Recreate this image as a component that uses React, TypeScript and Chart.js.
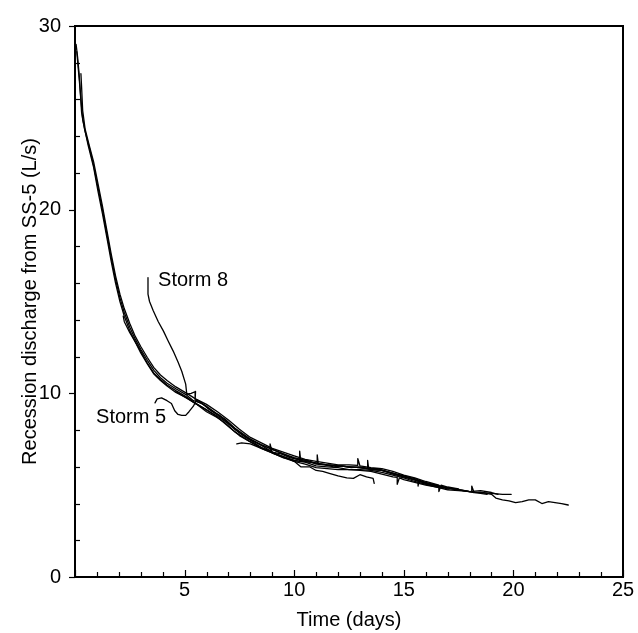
import React, { useEffect, useRef } from "react";
import { Chart, registerables } from "chart.js";

Chart.register(...registerables);

const FONT = "'Liberation Sans', Arial, Helvetica, sans-serif";

// Axis ranges and tick labels
const xMin = 0, xMax = 25, xStep = 5;
const yMin = 0, yMax = 30, yStep = 10;
const xTitle = "Time (days)";
const yTitle = "Recession discharge from SS-5 (L/s)";

// Storm recession curves (time in days, discharge in L/s)
const s1T = [0.05,0.12,0.2,0.3,0.45,0.65,0.85,1.05,1.25,1.45,1.65,1.85,2.05,2.25,2.5,2.75,3.0,3.3,3.6,3.9,4.2,4.6,5.1,5.4,5.8,6.2,6.6,7.0,7.4,7.8,8.2,8.6,9.0,9.4,9.8,10.2,10.6,11.0,11.4,11.8,12.2,12.6,13.0,13.4,13.8,14.2,14.6,15.0,15.4,15.8,16.2,16.6,17.0,17.4,17.8,18.2,18.6,19.0,19.2,19.5,19.8,20.1,20.4,20.7,21.0,21.3,21.6,21.9,22.2,22.5];
const s1Q = [29.0,28.3,27.2,25.3,24.3,23.4,22.4,21.2,20.0,18.7,17.4,16.2,15.2,14.4,13.6,12.95,12.4,11.8,11.25,10.85,10.55,10.25,9.9,9.6,9.45,9.05,8.8,8.35,7.95,7.6,7.35,7.1,6.8,6.7,6.5,6.4,6.35,6.15,6.1,6.0,6.05,5.95,6.0,5.9,5.9,5.75,5.6,5.5,5.3,5.2,5.05,4.95,4.85,4.75,4.7,4.6,4.6,4.5,4.3,4.2,4.15,4.05,4.1,4.2,4.2,4.0,4.1,4.05,4.0,3.92];

const s2T = [0.27,0.3,0.35,0.46,0.65,0.85,1.05,1.25,1.45,1.65,1.85,2.05,2.25,2.5,2.75,3.0,3.3,3.6,3.9,4.2,4.6,5.1,5.5,6.0,6.5,7.0,7.5,8.0,8.5,9.0,9.5,10.0,10.5,11.0,11.5,12.0,12.5,12.9,12.9,13.0,13.5,14.0,14.5,15.0,15.5,16.0,16.6,16.6,16.7,17.0,17.5];
const s2Q = [27.4,26.7,25.4,24.4,23.5,22.6,21.4,20.2,18.9,17.6,16.4,15.4,14.6,13.8,13.1,12.55,11.95,11.4,11.0,10.7,10.35,10.0,9.7,9.4,9.0,8.55,8.05,7.6,7.3,7.0,6.8,6.6,6.4,6.3,6.2,6.1,6.1,6.08,6.45,6.05,5.95,5.9,5.75,5.55,5.4,5.2,5.0,4.65,5.0,4.9,4.8];

const s3T = [2.2,2.25,2.5,2.75,3.0,3.3,3.6,3.9,4.2,4.6,5.1,5.55,6.0,6.46,6.84,7.3,7.95,8.5,9.0,9.5,10.0,10.3,10.7,11.0,11.3,11.6,12.0,12.4,12.7,13.0,13.3,13.6,13.65];
const s3Q = [14.2,13.9,13.3,12.8,12.2,11.6,11.05,10.7,10.4,10.05,9.75,9.4,9.0,8.7,8.4,7.9,7.4,7.05,6.8,6.55,6.3,6.0,6.0,5.8,5.75,5.64,5.5,5.4,5.37,5.57,5.45,5.37,5.1];

// Storm 8
const s8T = [3.33,3.33,3.4,3.57,3.8,4.03,4.25,4.48,4.7,4.87,5.05,5.1,5.3,5.5,5.48,5.6,6.0,6.46,6.84,7.3,7.95,8.5,9.0,9.5,10.0,10.5,11.0,11.5,12.0,12.5,13.0,13.5,14.0,14.5,15.0,15.5,16.0,16.5,17.0];
const s8Q = [16.3,15.4,15.0,14.5,13.9,13.4,12.85,12.3,11.7,11.2,10.5,9.95,10.0,10.1,9.65,9.55,9.3,8.9,8.6,8.1,7.55,7.2,6.95,6.7,6.5,6.35,6.2,6.1,6.05,6.0,5.95,5.9,5.8,5.65,5.45,5.3,5.1,4.95,4.8];

// Storm 5
const s5T = [3.65,3.75,3.95,4.2,4.4,4.55,4.7,4.87,5.05,5.2,5.4,5.55,5.7,6.0,6.46,6.84,7.3,7.95,8.5,9.0,9.5,10.0,10.5,11.0,11.5,12.0,12.5,13.0,13.5,14.0,14.5,15.0,15.5,16.0,16.5,17.0,17.5,18.0,18.1,18.1,18.2,18.5,19.0,19.5,19.9];
const s5Q = [9.48,9.7,9.75,9.6,9.45,9.05,8.85,8.8,8.8,9.0,9.3,9.65,9.55,9.25,8.85,8.55,8.05,7.5,7.2,6.95,6.7,6.45,6.3,6.2,6.1,6.05,6.0,5.95,5.85,5.8,5.6,5.45,5.3,5.1,4.95,4.85,4.75,4.65,4.65,4.95,4.62,4.6,4.55,4.5,4.5];

const s6T = [7.38,7.6,8.0,8.5,9.0,9.5,10.0,10.5,11.0,11.5,12.0,12.5,13.0,13.5,14.0,14.5,15.0,15.5,16.0,16.5,16.8];
const s6Q = [7.25,7.3,7.25,7.0,6.75,6.5,6.35,6.25,6.05,6.0,5.95,5.85,5.85,5.8,5.7,5.55,5.4,5.2,5.05,4.9,4.85];

const s7T = [0.08,0.2,0.35,0.6,0.85,1.05,1.25,1.45,1.65,1.85,2.05,2.25,2.5,2.75,3.0,3.3,3.6,3.9,4.2,4.6,5.1,5.5,6.0,6.5,7.0,7.5,8.0,8.5,9.0,9.5,10.0,10.25,10.25,10.3,10.7,11.0,11.05,11.05,11.1,11.5,12.0,12.5,13.0,13.35,13.35,13.4,14.0,14.5,15.0,15.5,15.65,15.65,15.7,16.0,16.5,17.0,17.5,18.0,18.5,19.0,19.3];
const s7Q = [28.6,27.0,24.9,23.5,22.3,21.0,19.8,18.5,17.2,16.0,15.0,14.2,13.4,12.8,12.3,11.65,11.1,10.75,10.45,10.15,9.8,9.45,9.1,8.7,8.2,7.7,7.35,7.0,6.75,6.55,6.35,6.3,6.85,6.3,6.25,6.2,6.2,6.65,6.15,6.1,6.05,6.0,5.95,5.9,6.35,5.88,5.8,5.65,5.5,5.35,5.3,4.95,5.28,5.15,5.0,4.85,4.75,4.65,4.7,4.6,4.5];

const s9T = [4.6,5.0,5.5,6.0,6.5,7.0,7.5,8.0,8.5,8.9,8.9,9.0,9.5,10.0,10.5,11.0,11.5,12.0,12.5,13.0,13.5,14.0,14.5,14.7,14.7,14.8,15.0,15.5,16.0,16.5,17.0,17.5,18.0,18.5,18.8];
const s9Q = [10.1,9.8,9.45,9.1,8.75,8.35,7.85,7.45,7.05,6.85,7.25,6.75,6.5,6.3,6.15,5.95,5.9,5.85,5.85,5.8,5.75,5.6,5.45,5.42,5.05,5.4,5.3,5.15,5.0,4.9,4.75,4.7,4.65,4.55,4.5];

const storms: [number[], number[]][] = [
  [s1T, s1Q], [s2T, s2Q], [s3T, s3Q], [s8T, s8Q], [s5T, s5Q],
  [s6T, s6Q], [s7T, s7Q], [s9T, s9Q],
];

// Text labels placed in data coordinates
const labelTexts = ["Storm 8", "Storm 5"];
const labelX = [3.79, 0.96];
const labelY = [15.86, 8.36];

const decorPlugin = {
  id: "decor",
  afterDatasetsDraw(chart: any) {
    const { ctx, chartArea, scales } = chart;
    const xs = scales.x, ys = scales.y;
    ctx.save();
    ctx.strokeStyle = "#000";
    ctx.lineWidth = 2;
    ctx.strokeRect(chartArea.left, chartArea.top, chartArea.right - chartArea.left, chartArea.bottom - chartArea.top);
    ctx.lineWidth = 1.2;
    for (let t = xMin; t <= xMax; t += 1) {
      const px = Math.round(xs.getPixelForValue(t)) + 0.5;
      const len = t % xStep === 0 ? 7 : 5;
      ctx.beginPath();
      ctx.moveTo(px, chartArea.bottom);
      ctx.lineTo(px, chartArea.bottom - len);
      ctx.stroke();
    }
    for (let v = yMin; v <= yMax; v += 2) {
      const py = Math.round(ys.getPixelForValue(v)) + 0.5;
      ctx.beginPath();
      ctx.moveTo(chartArea.left, py);
      ctx.lineTo(v % yStep === 0 ? chartArea.left - 6 : chartArea.left + 5, py);
      ctx.stroke();
    }
    ctx.fillStyle = "#000";
    ctx.font = `20px ${FONT}`;
    ctx.textAlign = "left";
    ctx.textBaseline = "alphabetic";
    labelTexts.forEach((txt, i) => {
      ctx.fillText(txt, xs.getPixelForValue(labelX[i]), ys.getPixelForValue(labelY[i]));
    });
    ctx.restore();
  },
};

export default function App() {
  const ref = useRef<HTMLCanvasElement | null>(null);
  useEffect(() => {
    if (!ref.current) return;
    const chart = new Chart(ref.current, {
      type: "line",
      data: {
        datasets: storms.map(([T, Q], k) => ({
          label: "storm" + k,
          data: T.map((t, i) => ({ x: t, y: Q[i] })),
          borderColor: "#000",
          borderWidth: 1.3,
          borderJoinStyle: "round" as const,
          borderCapStyle: "round" as const,
          pointRadius: 0,
          tension: 0,
          fill: false,
        })),
      },
      options: {
        animation: false,
        responsive: false,
        events: [],
        layout: { padding: { top: 17, right: 15, left: 0, bottom: 0 } },
        plugins: { legend: { display: false }, tooltip: { enabled: false } },
        scales: {
          x: {
            type: "linear",
            min: xMin,
            max: xMax,
            afterFit: (s: any) => { s.height = 56; },
            grid: { display: false, drawTicks: false },
            border: { display: false },
            ticks: {
              stepSize: xStep,
              padding: 1,
              color: "#000",
              maxRotation: 0,
              autoSkip: false,
              font: { family: FONT, size: 20 },
              callback: (v: any) => (v === 0 ? "" : String(v)),
            },
            title: {
              display: true,
              text: xTitle,
              color: "#000",
              font: { family: FONT, size: 20 },
              padding: { top: 0, bottom: 1 },
            },
          },
          y: {
            type: "linear",
            min: yMin,
            max: yMax,
            afterFit: (s: any) => { s.width = 75; },
            grid: { display: false, drawTicks: false },
            border: { display: false },
            ticks: {
              stepSize: yStep,
              padding: 14,
              color: "#000",
              font: { family: FONT, size: 20 },
            },
            title: {
              display: true,
              text: yTitle,
              color: "#000",
              font: { family: FONT, size: 20 },
              padding: { top: 18, bottom: 0 },
            },
          },
        },
      },
      plugins: [decorPlugin],
    });
    return () => chart.destroy();
  }, []);
  return (
    <div style={{ position: "fixed", left: 0, top: 0, width: 638, height: 633, background: "#fff" }}>
      <canvas ref={ref} width={638} height={633} />
    </div>
  );
}
